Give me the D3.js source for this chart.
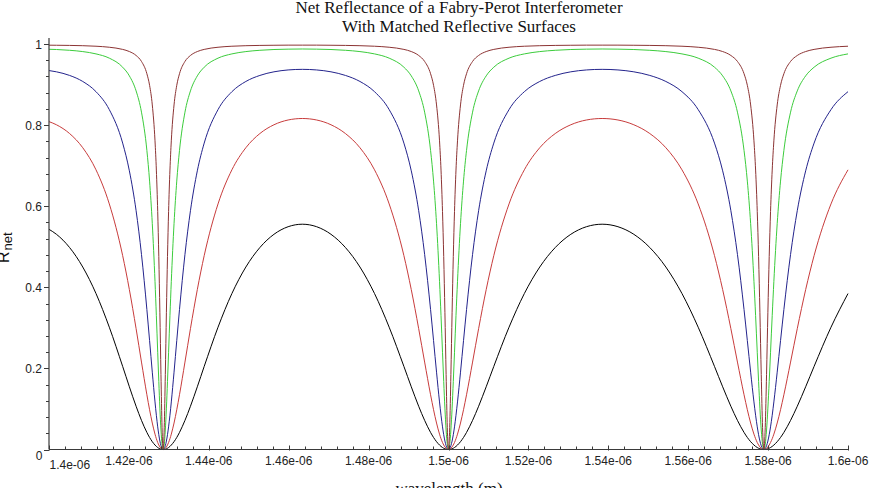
<!DOCTYPE html>
<html>
<head>
<meta charset="utf-8">
<script src="https://cdn.jsdelivr.net/npm/d3@7"></script>
<style>
  html, body { margin: 0; padding: 0; background: #fff; }
  svg { display: block; }
</style>
</head>
<body>
<svg id="chart" width="870" height="488"></svg>
<script>
// wavelength samples (micrometres; axis labels are in metres)
const wavelength = [
1.400000, 1.401869, 1.405152, 1.408451, 1.411765, 1.415094, 1.418440, 1.420118, 1.421801, 1.423150, 1.424501, 1.425178, 1.425856, 1.426534, 1.426873, 1.427212, 1.427484, 1.427756, 1.428027, 1.428299, 1.428571,
1.428844, 1.429116, 1.429388, 1.429661, 1.429933, 1.430274, 1.430615, 1.431298, 1.431981, 1.432665, 1.434034, 1.435407, 1.437126, 1.438849, 1.442308, 1.445783, 1.449275, 1.452785, 1.456311, 1.459854, 1.463415,
1.466993, 1.470588, 1.474201, 1.477833, 1.481481, 1.485149, 1.488834, 1.490683, 1.492537, 1.494024, 1.495513, 1.496259, 1.497006, 1.497753, 1.498127, 1.498501, 1.498801, 1.499101, 1.499400, 1.499700, 1.500000,
1.500300, 1.500600, 1.500901, 1.501201, 1.501502, 1.501877, 1.502253, 1.503006, 1.503759, 1.504514, 1.506024, 1.507538, 1.509434, 1.511335, 1.515152, 1.518987, 1.522843, 1.526718, 1.530612, 1.534527, 1.538462,
1.542416, 1.546392, 1.550388, 1.554404, 1.558442, 1.562500, 1.566580, 1.568627, 1.570681, 1.572327, 1.573977, 1.574803, 1.575630, 1.576458, 1.576873, 1.577287, 1.577619, 1.577951, 1.578283, 1.578615, 1.578947,
1.579280, 1.579613, 1.579945, 1.580278, 1.580611, 1.581028, 1.581444, 1.582278, 1.583113, 1.583949, 1.585624, 1.587302, 1.589404, 1.591512, 1.595745, 1.600000
];

const rBlack = [
0.5430, 0.5307, 0.4981, 0.4500, 0.3846, 0.3016, 0.2049, 0.1547, 0.1066, 0.0718, 0.0421, 0.0297, 0.0193, 0.0110, 0.0076, 0.0049, 0.0031, 0.0018, 0.0008, 0.0002, 0,
0.0002, 0.0008, 0.0018, 0.0031, 0.0049, 0.0076, 0.0110, 0.0193, 0.0297, 0.0421, 0.0718, 0.1066, 0.1547, 0.2049, 0.3016, 0.3846, 0.4500, 0.4981, 0.5307, 0.5494, 0.5556,
0.5494, 0.5307, 0.4981, 0.4500, 0.3846, 0.3016, 0.2049, 0.1547, 0.1066, 0.0718, 0.0421, 0.0297, 0.0193, 0.0110, 0.0076, 0.0049, 0.0031, 0.0018, 0.0008, 0.0002, 0,
0.0002, 0.0008, 0.0018, 0.0031, 0.0049, 0.0076, 0.0110, 0.0193, 0.0297, 0.0421, 0.0718, 0.1066, 0.1547, 0.2049, 0.3016, 0.3846, 0.4500, 0.4981, 0.5307, 0.5494, 0.5556,
0.5494, 0.5307, 0.4981, 0.4500, 0.3846, 0.3016, 0.2049, 0.1547, 0.1066, 0.0718, 0.0421, 0.0297, 0.0193, 0.0110, 0.0076, 0.0049, 0.0031, 0.0018, 0.0008, 0.0002, 0,
0.0002, 0.0008, 0.0018, 0.0031, 0.0049, 0.0076, 0.0110, 0.0193, 0.0297, 0.0421, 0.0718, 0.1066, 0.1547, 0.2049, 0.3016, 0.3846
];

const rRed = [
0.8086, 0.8008, 0.7792, 0.7442, 0.6897, 0.6056, 0.4781, 0.3943, 0.2980, 0.2156, 0.1350, 0.0981, 0.0653, 0.0379, 0.0266, 0.0172, 0.0111, 0.0063, 0.0028, 0.0007, 0,
0.0007, 0.0028, 0.0063, 0.0111, 0.0172, 0.0266, 0.0379, 0.0653, 0.0981, 0.1350, 0.2156, 0.2980, 0.3943, 0.4781, 0.6056, 0.6897, 0.7442, 0.7792, 0.8008, 0.8126, 0.8163,
0.8126, 0.8008, 0.7792, 0.7442, 0.6897, 0.6056, 0.4781, 0.3943, 0.2980, 0.2156, 0.1350, 0.0981, 0.0653, 0.0379, 0.0266, 0.0172, 0.0111, 0.0063, 0.0028, 0.0007, 0,
0.0007, 0.0028, 0.0063, 0.0111, 0.0172, 0.0266, 0.0379, 0.0653, 0.0981, 0.1350, 0.2156, 0.2980, 0.3943, 0.4781, 0.6056, 0.6897, 0.7442, 0.7792, 0.8008, 0.8126, 0.8163,
0.8126, 0.8008, 0.7792, 0.7442, 0.6897, 0.6056, 0.4781, 0.3943, 0.2980, 0.2156, 0.1350, 0.0981, 0.0653, 0.0379, 0.0266, 0.0172, 0.0111, 0.0063, 0.0028, 0.0007, 0,
0.0007, 0.0028, 0.0063, 0.0111, 0.0172, 0.0266, 0.0379, 0.0653, 0.0981, 0.1350, 0.2156, 0.2980, 0.3943, 0.4781, 0.6056, 0.6897
];

const rBlue = [
0.9345, 0.9314, 0.9225, 0.9076, 0.8824, 0.8382, 0.7556, 0.6872, 0.5889, 0.4812, 0.3450, 0.2685, 0.1907, 0.1173, 0.0845, 0.0558, 0.0365, 0.0209, 0.0094, 0.0024, 0,
0.0024, 0.0094, 0.0209, 0.0365, 0.0558, 0.0845, 0.1173, 0.1907, 0.2685, 0.3450, 0.4812, 0.5889, 0.6872, 0.7556, 0.8382, 0.8824, 0.9076, 0.9225, 0.9314, 0.9360, 0.9375,
0.9360, 0.9314, 0.9225, 0.9076, 0.8824, 0.8382, 0.7556, 0.6872, 0.5889, 0.4812, 0.3450, 0.2685, 0.1907, 0.1173, 0.0845, 0.0558, 0.0365, 0.0209, 0.0094, 0.0024, 0,
0.0024, 0.0094, 0.0209, 0.0365, 0.0558, 0.0845, 0.1173, 0.1907, 0.2685, 0.3450, 0.4812, 0.5889, 0.6872, 0.7556, 0.8382, 0.8824, 0.9076, 0.9225, 0.9314, 0.9360, 0.9375,
0.9360, 0.9314, 0.9225, 0.9076, 0.8824, 0.8382, 0.7556, 0.6872, 0.5889, 0.4812, 0.3450, 0.2685, 0.1907, 0.1173, 0.0845, 0.0558, 0.0365, 0.0209, 0.0094, 0.0024, 0,
0.0024, 0.0094, 0.0209, 0.0365, 0.0558, 0.0845, 0.1173, 0.1907, 0.2685, 0.3450, 0.4812, 0.5889, 0.6872, 0.7556, 0.8382, 0.8824
];

const rGreen = [
0.9870, 0.9864, 0.9845, 0.9813, 0.9756, 0.9651, 0.9428, 0.9214, 0.8843, 0.8319, 0.7375, 0.6619, 0.5569, 0.4147, 0.3300, 0.2398, 0.1680, 0.1020, 0.0481, 0.0125, 0,
0.0125, 0.0481, 0.1020, 0.1680, 0.2398, 0.3300, 0.4147, 0.5569, 0.6619, 0.7375, 0.8319, 0.8843, 0.9214, 0.9428, 0.9651, 0.9756, 0.9813, 0.9845, 0.9864, 0.9873, 0.9877,
0.9873, 0.9864, 0.9845, 0.9813, 0.9756, 0.9651, 0.9428, 0.9214, 0.8843, 0.8319, 0.7375, 0.6619, 0.5569, 0.4147, 0.3300, 0.2398, 0.1680, 0.1020, 0.0481, 0.0125, 0,
0.0125, 0.0481, 0.1020, 0.1680, 0.2398, 0.3300, 0.4147, 0.5569, 0.6619, 0.7375, 0.8319, 0.8843, 0.9214, 0.9428, 0.9651, 0.9756, 0.9813, 0.9845, 0.9864, 0.9873, 0.9877,
0.9873, 0.9864, 0.9845, 0.9813, 0.9756, 0.9651, 0.9428, 0.9214, 0.8843, 0.8319, 0.7375, 0.6619, 0.5569, 0.4147, 0.3300, 0.2398, 0.1680, 0.1020, 0.0481, 0.0125, 0,
0.0125, 0.0481, 0.1020, 0.1680, 0.2398, 0.3300, 0.4147, 0.5569, 0.6619, 0.7375, 0.8319, 0.8843, 0.9214, 0.9428, 0.9651, 0.9756
];

const rMaroon = [
0.9971, 0.9969, 0.9965, 0.9958, 0.9945, 0.9920, 0.9867, 0.9814, 0.9717, 0.9570, 0.9267, 0.8981, 0.8497, 0.7612, 0.6891, 0.5867, 0.4761, 0.3384, 0.1852, 0.0538, 0,
0.0538, 0.1852, 0.3384, 0.4761, 0.5867, 0.6891, 0.7612, 0.8497, 0.8981, 0.9267, 0.9570, 0.9717, 0.9814, 0.9867, 0.9920, 0.9945, 0.9958, 0.9965, 0.9969, 0.9972, 0.9972,
0.9972, 0.9969, 0.9965, 0.9958, 0.9945, 0.9920, 0.9867, 0.9814, 0.9717, 0.9570, 0.9267, 0.8981, 0.8497, 0.7612, 0.6891, 0.5867, 0.4761, 0.3384, 0.1852, 0.0538, 0,
0.0538, 0.1852, 0.3384, 0.4761, 0.5867, 0.6891, 0.7612, 0.8497, 0.8981, 0.9267, 0.9570, 0.9717, 0.9814, 0.9867, 0.9920, 0.9945, 0.9958, 0.9965, 0.9969, 0.9972, 0.9972,
0.9972, 0.9969, 0.9965, 0.9958, 0.9945, 0.9920, 0.9867, 0.9814, 0.9717, 0.9570, 0.9267, 0.8981, 0.8497, 0.7612, 0.6891, 0.5867, 0.4761, 0.3384, 0.1852, 0.0538, 0,
0.0538, 0.1852, 0.3384, 0.4761, 0.5867, 0.6891, 0.7612, 0.8497, 0.8981, 0.9267, 0.9570, 0.9717, 0.9814, 0.9867, 0.9920, 0.9945
];

const seriesNames  = ["R = 0.2", "R = 0.4", "R = 0.6", "R = 0.8", "R = 0.9"];
const seriesValues = [rBlack, rRed, rBlue, rGreen, rMaroon];
const seriesColors = ["#000000", "#c83c3c", "#23238c", "#3ccc3c", "#8c3434"];

const xTickValues = [1.40, 1.42, 1.44, 1.46, 1.48, 1.50, 1.52, 1.54, 1.56, 1.58, 1.60];
const xTickLabels = ["1.4e-06", "1.42e-06", "1.44e-06", "1.46e-06", "1.48e-06", "1.5e-06",
                     "1.52e-06", "1.54e-06", "1.56e-06", "1.58e-06", "1.6e-06"];
const yTickValues = [0, 0.2, 0.4, 0.6, 0.8, 1];
const yTickLabels = ["0", "0.2", "0.4", "0.6", "0.8", "1"];

const titleLines = ["Net Reflectance of a Fabry-Perot Interferometer", "With Matched Reflective Surfaces"];
const xTitle = "wavelength (m)";

// ---------- drawing ----------
const svg = d3.select("#chart");
const x = d3.scaleLinear().domain([1.4, 1.6]).range([49, 848]);
const y = d3.scaleLinear().domain([0, 1]).range([449.5, 44]);
const axisColor = "#3a3a3a";
const sans = "'Liberation Sans', Arial, sans-serif";
const serif = "'Liberation Serif', 'Times New Roman', serif";

// curves
const line = d3.line()
  .x((d, i) => x(wavelength[i]))
  .y(d => y(d))
  .curve(d3.curveMonotoneX);

seriesValues.forEach((vals, k) => {
  if (vals.length !== wavelength.length) console.error("length mismatch", seriesNames[k], vals.length);
  svg.append("path")
    .attr("d", line(vals))
    .attr("fill", "none")
    .attr("stroke", seriesColors[k])
    .attr("stroke-width", 1);
});

// axes lines
svg.append("line").attr("x1", x(1.4)).attr("x2", x(1.4)).attr("y1", y(0)).attr("y2", y(1) - 6)
  .attr("stroke", axisColor).attr("stroke-width", 1.2);
svg.append("line").attr("x1", x(1.4)).attr("x2", x(1.6) + 1).attr("y1", y(0)).attr("y2", y(0))
  .attr("stroke", axisColor).attr("stroke-width", 1.2);

// y ticks (major + minor)
const yMinor = d3.range(0, 1.0001, 0.04);
svg.selectAll(".ymin").data(yMinor).enter().append("line")
  .attr("x1", x(1.4) - 3).attr("x2", x(1.4))
  .attr("y1", d => Math.round(y(d)) + 0.5).attr("y2", d => Math.round(y(d)) + 0.5)
  .attr("stroke", axisColor).attr("stroke-width", 1);
svg.selectAll(".ymaj").data(yTickValues).enter().append("line")
  .attr("x1", x(1.4) - 5).attr("x2", x(1.4))
  .attr("y1", d => Math.round(y(d)) + 0.5).attr("y2", d => Math.round(y(d)) + 0.5)
  .attr("stroke", axisColor).attr("stroke-width", 1);
svg.selectAll(".ylab").data(yTickValues).enter().append("text")
  .attr("x", (d, i) => i === 0 ? 42.5 : 42)
  .attr("y", (d, i) => i === 0 ? y(d) + 10.5 : y(d) + 4.6)
  .attr("text-anchor", "end")
  .attr("font-family", sans).attr("font-size", 12).attr("fill", "#222")
  .text((d, i) => yTickLabels[i]);

// x ticks (major + minor)
const xMinor = d3.range(0, 51).map(i => 1.4 + i * 0.004);
svg.selectAll(".xmin").data(xMinor).enter().append("line")
  .attr("x1", d => Math.round(x(d)) + 0.5).attr("x2", d => Math.round(x(d)) + 0.5)
  .attr("y1", y(0) - 3).attr("y2", y(0))
  .attr("stroke", axisColor).attr("stroke-width", 1);
svg.selectAll(".xmaj").data(xTickValues).enter().append("line")
  .attr("x1", d => Math.round(x(d)) + 0.5).attr("x2", d => Math.round(x(d)) + 0.5)
  .attr("y1", y(0) - 4).attr("y2", y(0) + 1)
  .attr("stroke", axisColor).attr("stroke-width", 1);
svg.selectAll(".xlab").data(xTickValues).enter().append("text")
  .attr("x", (d, i) => i === 0 ? x(d) + 0.5 : x(d))
  .attr("y", (d, i) => i === 0 ? 469 : 465)
  .attr("text-anchor", (d, i) => i === 0 ? "start" : "middle")
  .attr("font-family", sans).attr("font-size", 12).attr("fill", "#222")
  .text((d, i) => xTickLabels[i]);

// titles
svg.selectAll(".title").data(titleLines).enter().append("text")
  .attr("x", 459).attr("y", (d, i) => 13 + i * 19)
  .attr("text-anchor", "middle")
  .attr("font-family", serif).attr("font-size", 17).attr("fill", "#111")
  .text(d => d);

svg.append("text")
  .attr("x", 449).attr("y", 494)
  .attr("text-anchor", "middle")
  .attr("font-family", serif).attr("font-size", 17).attr("fill", "#111")
  .text(xTitle);

// y-axis title R_net
svg.append("text")
  .attr("transform", "translate(9,263) rotate(-90)")
  .attr("font-family", sans).attr("font-size", 16).attr("fill", "#111")
  .text("R");
svg.append("text")
  .attr("transform", "translate(12,250.5) rotate(-90)")
  .attr("font-family", sans).attr("font-size", 13).attr("fill", "#111")
  .text("net");
</script>
</body>
</html>
